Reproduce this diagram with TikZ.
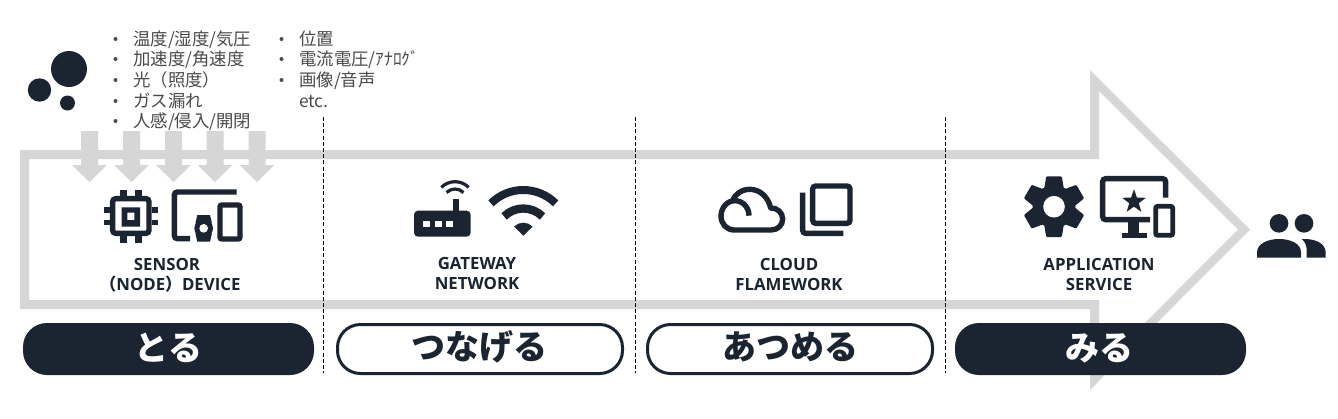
\documentclass[tikz,border=0pt]{standalone}
\usepackage{fontspec}
\usetikzlibrary{shapes.geometric}
\setmainfont{Open Sans}
\newfontfamily\cjk{Noto Sans CJK JP}
\newfontfamily\lat{Open Sans}
\definecolor{ink}{HTML}{1B2431}
\definecolor{band}{HTML}{D6D6D6}
\definecolor{listc}{HTML}{4A4A4A}
\tikzset{
  listtxt/.style={anchor=base west,inner sep=0pt,text=listc,font=\cjk\fontsize{17.4}{18}\selectfont},
  bul/.style={circle,fill=listc,inner sep=0pt,minimum size=4pt},
  lab/.style={anchor=center,inner sep=0pt,text=ink,font=\lat\bfseries\fontsize{16.8}{18}\selectfont},
  pilldark/.style={rounded corners=24pt,fill=ink},
  pilllight/.style={rounded corners=23pt,draw=ink,line width=3pt,fill=white},
  pilltxt/.style={anchor=center,inner sep=0pt,font=\cjk\bfseries\fontsize{34}{36}\selectfont},
  sep/.style={draw=black,line width=0.8pt,dash pattern=on 4pt off 2.2pt},
  icon/.style={draw=ink,line width=5.4pt,fill=none},
}
\begin{document}
\begin{tikzpicture}[x=1pt,y=-1pt]
\useasboundingbox (0,0) rectangle (1338,418);
\fill[white] (0,0) rectangle (1338,418);
% big arrow
\fill[band,even odd rule]
  (20,150)--(1090,150)--(1090,70)--(1250,229.5)--(1090,390)--(1090,309)--(20,309)--cycle
  (29,159)--(1099,159)--(1099,91)--(1238,229.5)--(1099,369)--(1099,300)--(29,300)--cycle;
% small arrows
\foreach \c in {89.5,131.5,173.5,215,257}{
  \fill[band] (\c-8.5,131)--(\c+8.5,131)--(\c+8.5,165)--(\c+17.5,165)--(\c,182)--(\c-17.5,165)--(\c-8.5,165)--cycle;
}
% separators
\foreach \c in {323.5,635.5,945.5}{ \draw[sep] (\c,117)--(\c,373); }
% dots
\fill[ink] (69,69) circle (18) (39.5,90) circle (11.7) (67.5,103) circle (7.5);
% list
\node[bul] (b1) at (115.5,39) {}; \node[listtxt] (t1) at (133,45) {温度/湿度/気圧};
\node[bul] (b2) at (115.5,59) {}; \node[listtxt] (t2) at (133,65.5) {加速度/角速度};
\node[bul] (b3) at (115.5,80) {}; \node[listtxt] (t3) at (133,86) {光（照度）};
\node[bul] (b4) at (115.5,101) {}; \node[listtxt] (t4) at (133,107) {ガス漏れ};
\node[bul] (b5) at (115.5,121) {}; \node[listtxt] (t5) at (133,127) {人感/侵入/開閉};
\node[bul] (b6) at (281.5,39) {}; \node[listtxt] (t6) at (299,45) {位置};
\node[bul] (b7) at (281.5,59) {}; \node[listtxt] (t7) at (299,65.5) {電流電圧/ｱﾅﾛｸﾞ};
\node[bul] (b8) at (281.5,80) {}; \node[listtxt] (t8) at (299,86) {画像/音声};
\node[listtxt] (t9) at (299,107) {etc.};
% chip
\begin{scope}[shift={(90,170)},scale=1/3]
  \draw[icon,rounded corners=3pt] (68,86) rectangle (177,190);
  \fill[ink,even odd rule] (95,112) rectangle (150,170) (112,128) rectangle (133,150);
  \foreach \x in {90,135}{ \fill[ink] (\x,60) rectangle (\x+20,80); \fill[ink] (\x,198) rectangle (\x+20,218); }
  \foreach \y in {112,150}{ \fill[ink] (42,\y) rectangle (60,\y+16); \fill[ink] (185,\y) rectangle (203,\y+16); }
  % device
  \draw[icon,rounded corners=3pt] (440,66) -- (253,66) -- (253,206) -- (300,206);
  \fill[ink] (322,135)--(360,135)--(366,160)--(316,160)--cycle;
  \fill[ink] (316,190)--(366,190)--(360,215)--(322,215)--cycle;
  \fill[ink] (341,175) circle (28);
  \fill[white] (341,175) circle (13);
  \draw[icon,rounded corners=2pt] (390,105) rectangle (450,207);
\end{scope}
% router
\begin{scope}[shift={(400,170)},scale=1/3]
  \fill[ink,rounded corners=4pt] (42,122) rectangle (212,200);
  \fill[ink] (158,88) rectangle (176,130);
  \foreach \x in {70,105,138}{ \fill[white] (\x,153) rectangle (\x+20,172); }
\end{scope}
\draw[ink,line width=3.2pt] (455,201) ++(-45:19.3) arc[start angle=-45,end angle=-135,radius=19.3];
\draw[ink,line width=3.2pt] (455,201) ++(-45:12) arc[start angle=-45,end angle=-135,radius=12];
% wifi
\begin{scope}[shift={(523.3,235.7)}]
  \draw[ink,line width=8pt] (-45:45.7) arc[start angle=-45,end angle=-135,radius=45.7];
  \draw[ink,line width=8.3pt] (-45:27.2) arc[start angle=-45,end angle=-135,radius=27.2];
  \fill[ink] (0,0) -- (-45:13) arc[start angle=-45,end angle=-135,radius=13] -- cycle;
\end{scope}
% cloud + stack
\begin{scope}[shift={(700,170)},scale=1/3]
  \draw[icon,line join=round]
    (147,137) .. controls (147,112) and (128,92) .. (105,92)
    .. controls (80,92) and (63,115) .. (63,138)
    .. controls (63,162) and (80,180) .. (103,180)
    -- (213,180)
    .. controls (234,180) and (248,165) .. (248,147)
    .. controls (248,128) and (232,113) .. (212,114)
    .. controls (205,82) and (180,58) .. (150,58)
    .. controls (125,58) and (105,72) .. (97,93);
  \draw[icon,rounded corners=3pt] (338,48) rectangle (450,160);
  \draw[icon,rounded corners=3pt] (308,68) -- (308,190) -- (430,190);
\end{scope}
% gear
\begin{scope}[shift={(1054,206.7)}]
  \fill[ink] (0,0) circle (21.5);
  \foreach \a in {0,60,...,300}{
    \fill[ink,rotate=\a,rounded corners=1pt] (-9.8,-18)--(9.8,-18)--(7.8,-30.3)--(-7.8,-30.3)--cycle;
  }
  \fill[white] (0,0) circle (10.8);
\end{scope}
% monitor + phone
\begin{scope}[shift={(1010,165)},scale=1/3]
  \draw[icon,rounded corners=3pt] (467,98) -- (467,41) -- (278,41) -- (278,164) -- (420,164);
  \fill[ink] (355,170) rectangle (387,205);
  \fill[ink] (335,203) rectangle (410,218);
  \node[star,star points=5,star point ratio=2.5,fill=ink,inner sep=0pt,minimum size=25pt] (st) at (372,110) {};
  \draw[icon,line width=4.8pt,rounded corners=2pt] (437,124) rectangle (488,211);
\end{scope}
% people
\begin{scope}[shift={(1010,165)},scale=1/3]
  \fill[ink] (807,175) circle (28);
  \fill[ink] (882,175) circle (28);
  \fill[ink] (741,278) -- (741,262) .. controls (741,235) and (775,222) .. (807,222)
     .. controls (840,222) and (873,235) .. (873,262) -- (873,278) -- cycle;
  \fill[ink] (875,222) .. controls (915,220) and (947,235) .. (947,262) -- (947,278) -- (890,278) -- (890,255)
     .. controls (890,242) and (885,230) .. (875,222) -- cycle;
\end{scope}
% labels
\node[lab] (l1) at (167,264.3) {SENSOR};
\node[lab] (l2) at (170,284.3) {{\cjk（}NODE{\cjk）}DEVICE};
\node[lab] (l3) at (477,263.3) {GATEWAY};
\node[lab] (l4) at (477,283.3) {NETWORK};
\node[lab] (l5) at (789,264.3) {CLOUD};
\node[lab] (l6) at (789,284.3) {FLAMEWORK};
\node[lab] (l7) at (1099,264.3) {APPLICATION};
\node[lab] (l8) at (1099,284.3) {SERVICE};
% pills
\fill[pilldark] (23,323) rectangle (314,375);
\draw[pilllight] (337.5,324.5) rectangle (622.5,373.5);
\draw[pilllight] (647.5,324.5) rectangle (932.5,373.5);
\fill[pilldark] (955,323) rectangle (1246,375);
\node[pilltxt,text=white] (p1) at (168,348) {とる};
\node[pilltxt,text=ink] (p2) at (479,347) {つなげる};
\node[pilltxt,text=ink] (p3) at (790,347) {あつめる};
\node[pilltxt,text=white] (p4) at (1099,348) {みる};
\end{tikzpicture}
\end{document}
